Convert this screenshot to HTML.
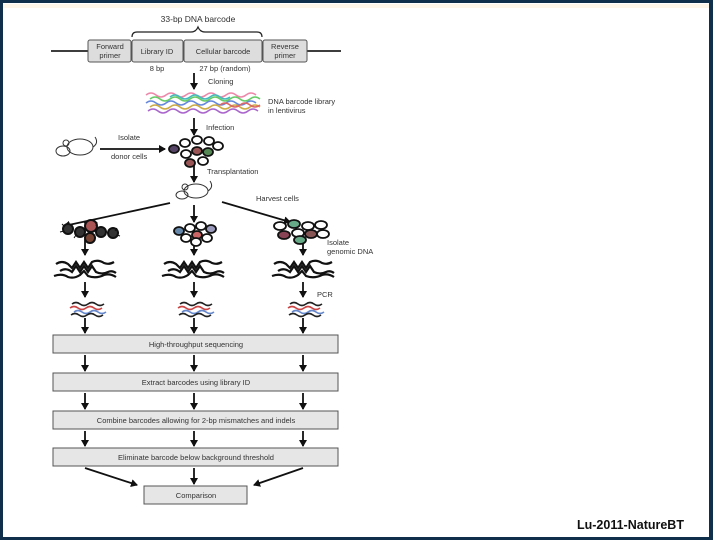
<!DOCTYPE html>
<html><head><meta charset="utf-8"><style>
html,body{margin:0;padding:0;background:#fff;}
body{width:720px;height:540px;overflow:hidden;position:relative;}
svg{position:absolute;left:0;top:0;}
text{font-family:"Liberation Sans",sans-serif;fill:#333;}
</style></head><body>
<svg width="720" height="540" viewBox="0 0 720 540">
<defs>
<marker id="ah" markerWidth="8" markerHeight="8" refX="6" refY="4" orient="auto" markerUnits="userSpaceOnUse">
<path d="M0,0 L7,4 L0,8 z" fill="#111"/></marker>
<g id="tangle" fill="none" stroke="#111" stroke-width="2.2">
<path d="M-32,-4 q6,-4 12,0 l4,4 l4,-6 l4,6 l4,-6 l4,6 l4,-6 q6,-3 12,1 q5,2 10,-1"/>
<path d="M-28,3 q6,-4 12,1 l4,-6 l4,6 l4,-6 l4,6 l4,-6 l4,6 q6,3 12,0 q4,-2 8,1"/>
<path d="M-34,8 q8,-3 14,1 q6,2 12,-2 l4,-4 l4,5 q8,3 16,-1 q6,-2 12,2"/>
</g>
<g id="pcrA" fill="none" stroke-width="1.6">
<path d="M-14,-4 q4,-3 8,0 t8,0 t8,0 t8,0" stroke="#222"/>
<path d="M-16,0 q4,-3 8,0 t8,0 t8,0 t8,0" stroke="#c44"/>
<path d="M-12,4 q4,-3 8,0 t8,0 t8,0 t8,0" stroke="#68c"/>
<path d="M-15,7 q4,-3 8,0 t8,0 t8,0 t8,0" stroke="#222"/>
</g>
</defs>
<!-- frame -->
<rect x="0" y="0" width="713" height="3" fill="#0f2f4a"/>
<rect x="0" y="4" width="713" height="4" fill="#fff6ea"/>
<rect x="0" y="0" width="3" height="540" fill="#0f2f4a"/>
<rect x="709" y="0" width="4" height="540" fill="#0f2f4a"/>
<rect x="0" y="537" width="713" height="3" fill="#0f2f4a"/>

<!-- barcode construct -->
<text x="198" y="22" font-size="8.5" text-anchor="middle">33-bp DNA barcode</text>
<path d="M132,37 q0,-5 5,-5 h54 q5,0 7,-5 q2,5 7,5 h52 q5,0 5,5" fill="none" stroke="#222" stroke-width="1.2"/>
<line x1="51" y1="51" x2="341" y2="51" stroke="#222" stroke-width="1.8"/>
<g fill="#ddd" stroke="#555" stroke-width="1">
<rect x="88" y="40" width="43" height="22" rx="2"/>
<rect x="132" y="40" width="51" height="22" rx="2"/>
<rect x="184" y="40" width="78" height="22" rx="2"/>
<rect x="263" y="40" width="44" height="22" rx="2"/>
</g>
<g font-size="7.5" text-anchor="middle">
<text x="110" y="49">Forward</text><text x="110" y="58">primer</text>
<text x="157" y="54">Library ID</text>
<text x="223" y="54">Cellular barcode</text>
<text x="285" y="49">Reverse</text><text x="285" y="58">primer</text>
<text x="157" y="71">8 bp</text>
<text x="225" y="71">27 bp (random)</text>
</g>
<g stroke="#111" stroke-width="1.8" marker-end="url(#ah)">
<line x1="194" y1="73" x2="194" y2="89"/>
<line x1="194" y1="118" x2="194" y2="135"/>
<line x1="100" y1="149" x2="165" y2="149"/>
<line x1="194" y1="165" x2="194" y2="182"/>
<line x1="170" y1="203" x2="64" y2="226"/>
<line x1="194" y1="205" x2="194" y2="222"/>
<line x1="222" y1="202" x2="290" y2="222"/>
<line x1="85" y1="239" x2="85" y2="255"/><line x1="194" y1="239" x2="194" y2="255"/><line x1="303" y1="239" x2="303" y2="255"/>
<line x1="85" y1="282" x2="85" y2="297"/><line x1="194" y1="282" x2="194" y2="297"/><line x1="303" y1="282" x2="303" y2="297"/>
<line x1="85" y1="318" x2="85" y2="333"/><line x1="194" y1="318" x2="194" y2="333"/><line x1="303" y1="318" x2="303" y2="333"/>
<line x1="85" y1="355" x2="85" y2="371"/><line x1="194" y1="355" x2="194" y2="371"/><line x1="303" y1="355" x2="303" y2="371"/>
<line x1="85" y1="393" x2="85" y2="409"/><line x1="194" y1="393" x2="194" y2="409"/><line x1="303" y1="393" x2="303" y2="409"/>
<line x1="85" y1="431" x2="85" y2="446"/><line x1="194" y1="431" x2="194" y2="446"/><line x1="303" y1="431" x2="303" y2="446"/>
<line x1="85" y1="468" x2="137" y2="485"/><line x1="194" y1="468" x2="194" y2="484"/><line x1="303" y1="468" x2="254" y2="485"/>
</g>
<g font-size="7.5">
<text x="208" y="84">Cloning</text>
<text x="268" y="104">DNA barcode library</text><text x="268" y="113">in lentivirus</text>
<text x="206" y="130">Infection</text>
<text x="118" y="140">Isolate</text><text x="111" y="159">donor cells</text>
<text x="207" y="174">Transplantation</text>
<text x="256" y="201">Harvest cells</text>
<text x="327" y="245">Isolate</text><text x="327" y="254">genomic DNA</text>
<text x="317" y="297">PCR</text>
</g>
<!-- library squiggles -->
<g fill="none" stroke-width="1.5">
<path d="M146,95 q5,-4 10,0 t10,0 t10,0 t10,0 t10,0 t10,0 t10,0 t10,0 t10,0 t10,0 t10,0" stroke="#e8a"/>
<path d="M150,99 q5,-4 10,0 t10,0 t10,0 t10,0 t10,0 t10,0 t10,0 t10,0 t10,0 t10,0 t10,0" stroke="#6c6"/>
<path d="M146,103 q5,-4 10,0 t10,0 t10,0 t10,0 t10,0 t10,0 t10,0 t10,0 t10,0 t10,0 t10,0" stroke="#68d"/>
<path d="M150,107 q5,-4 10,0 t10,0 t10,0 t10,0 t10,0 t10,0 t10,0 t10,0 t10,0 t10,0 t10,0" stroke="#ca4"/>
<path d="M148,111 q5,-4 10,0 t10,0 t10,0 t10,0 t10,0 t10,0 t10,0 t10,0 t10,0 t10,0 t10,0" stroke="#a6c"/>
<path d="M170,97 q5,-4 10,0 t10,0 t10,0 t10,0 t10,0 t10,0" stroke="#4bb"/>
<path d="M220,105 q5,-4 10,0 t10,0 t10,0 t10,0" stroke="#d66"/>
</g>
<!-- mice -->
<g fill="none" stroke="#333" stroke-width="1">
<ellipse cx="80" cy="147" rx="13" ry="8"/><ellipse cx="63" cy="151" rx="7" ry="5"/>
<circle cx="66" cy="143" r="3"/><path d="M93,147 q6,-4 2,-10"/>
<ellipse cx="196" cy="191" rx="12" ry="7"/><ellipse cx="182" cy="195" rx="6" ry="4"/>
<circle cx="185" cy="187" r="3"/><path d="M208,191 q6,-4 2,-10"/>
</g>
<!-- infected cells -->
<g stroke="#111" stroke-width="1.8" fill="#fff">
<ellipse cx="174" cy="149" rx="5" ry="4" fill="#546"/>
<ellipse cx="185" cy="143" rx="5" ry="4"/><ellipse cx="197" cy="140" rx="5" ry="4"/><ellipse cx="209" cy="141" rx="5" ry="4"/>
<ellipse cx="186" cy="154" rx="5" ry="4"/><ellipse cx="197" cy="151" rx="5" ry="4" fill="#955"/><ellipse cx="208" cy="152" rx="5" ry="4" fill="#585"/>
<ellipse cx="218" cy="146" rx="5" ry="4"/><ellipse cx="190" cy="163" rx="5" ry="4" fill="#955"/><ellipse cx="203" cy="161" rx="5" ry="4"/>
</g>
<!-- left cluster (spiky) -->
<g stroke="#111" stroke-width="2" fill="#333">
<circle cx="68" cy="229" r="5"/><circle cx="80" cy="232" r="5"/><circle cx="91" cy="226" r="6" fill="#a55"/>
<circle cx="101" cy="232" r="5"/><circle cx="113" cy="233" r="5"/><circle cx="90" cy="238" r="5" fill="#743"/>
</g>
<g stroke="#111" stroke-width="1" fill="none">
<path d="M62,224 l3,3 M60,232 l4,-1 M74,238 l2,-3 M117,228 l-2,3 M120,236 l-3,-1 M97,222 l-1,4 M84,222 l2,3"/>
</g>
<!-- middle cluster -->
<g stroke="#111" stroke-width="1.8" fill="#fff">
<ellipse cx="179" cy="231" rx="5" ry="4" fill="#68a"/><ellipse cx="190" cy="228" rx="5" ry="4"/><ellipse cx="201" cy="226" rx="5" ry="4"/>
<ellipse cx="211" cy="229" rx="5" ry="4" fill="#99b"/><ellipse cx="186" cy="238" rx="5" ry="4"/><ellipse cx="197" cy="235" rx="5" ry="4" fill="#c66"/>
<ellipse cx="207" cy="238" rx="5" ry="4"/><ellipse cx="196" cy="242" rx="5" ry="4"/>
</g>
<!-- right cluster (hex) -->
<g stroke="#111" stroke-width="1.8" fill="#fff">
<ellipse cx="280" cy="226" rx="6" ry="4"/><ellipse cx="294" cy="224" rx="6" ry="4" fill="#6a8"/><ellipse cx="308" cy="226" rx="6" ry="4"/>
<ellipse cx="321" cy="225" rx="6" ry="4"/><ellipse cx="284" cy="235" rx="6" ry="4" fill="#845"/><ellipse cx="298" cy="233" rx="6" ry="4"/>
<ellipse cx="311" cy="234" rx="6" ry="4" fill="#855"/><ellipse cx="323" cy="234" rx="6" ry="4"/><ellipse cx="300" cy="240" rx="6" ry="4" fill="#6a8"/>
</g>
<!-- genomic DNA -->
<use href="#tangle" x="88" y="268"/><use href="#tangle" x="196" y="268"/><use href="#tangle" x="306" y="268"/>
<!-- PCR products -->
<use href="#pcrA" x="86" y="308"/><use href="#pcrA" x="194" y="308"/><use href="#pcrA" x="304" y="308"/>
<!-- process boxes -->
<g fill="#e6e6e6" stroke="#555" stroke-width="1">
<rect x="53" y="335" width="285" height="18"/>
<rect x="53" y="373" width="285" height="18"/>
<rect x="53" y="411" width="285" height="18"/>
<rect x="53" y="448" width="285" height="18"/>
<rect x="144" y="486" width="103" height="18"/>
</g>
<g font-size="7.5" text-anchor="middle">
<text x="196" y="347">High-throughput sequencing</text>
<text x="196" y="385">Extract barcodes using library ID</text>
<text x="196" y="423">Combine barcodes allowing for 2-bp mismatches and indels</text>
<text x="196" y="460">Eliminate barcode below background threshold</text>
<text x="196" y="498">Comparison</text>
</g>
<text x="577" y="529" font-size="12.5" font-weight="bold" style="fill:#111">Lu-2011-NatureBT</text>
</svg>
</body></html>
